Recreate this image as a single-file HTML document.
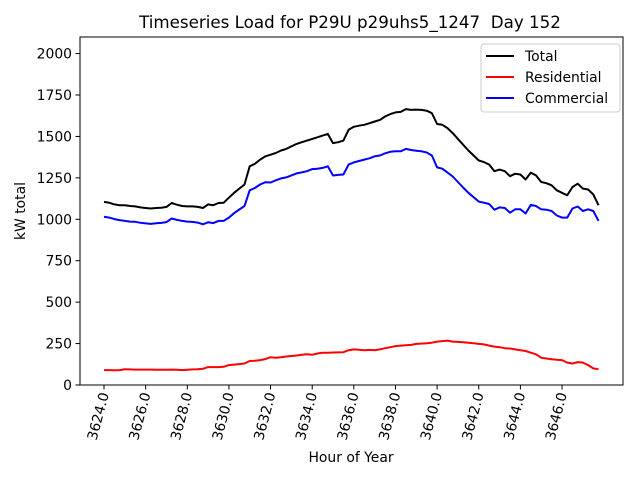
<!DOCTYPE html>
<html><head><meta charset="utf-8"><style>
body{margin:0;background:#fff;}
svg text{font-family:"DejaVu Sans","Liberation Sans",sans-serif;fill:#000;}
</style></head><body>
<svg id="chart" width="640" height="480" xmlns="http://www.w3.org/2000/svg">
<rect width="640" height="480" fill="#fff"/>
<text x="350" y="28" font-size="16.7" text-anchor="middle" style="white-space:pre">Timeseries Load for P29U p29uhs5_1247  Day 152</text>
<g id="grid"></g>
<g id="series"></g>
<rect x="80" y="37" width="543" height="348" fill="none" stroke="#000" stroke-width="1"/>
<g id="axes"></g>
<text x="351" y="462" font-size="13.9" text-anchor="middle">Hour of Year</text>
<text x="0" y="0" font-size="13.9" text-anchor="middle" transform="translate(25,211) rotate(-90)">kW total</text>
<g>
<rect x="481" y="44" width="139" height="68" rx="3" fill="#fff" fill-opacity="0.8" stroke="#ccc"/>
<line x1="486" y1="56" x2="514" y2="56" stroke="#000" stroke-width="2"/>
<text x="525" y="61" font-size="13.9">Total</text>
<line x1="486" y1="77" x2="514" y2="77" stroke="#f00" stroke-width="2"/>
<text x="525" y="82" font-size="13.9">Residential</text>
<line x1="486" y1="98" x2="514" y2="98" stroke="#00f" stroke-width="2"/>
<text x="525" y="103" font-size="13.9">Commercial</text>
</g>
</svg>
<script>
const startHour = 3624;
const stepHours = 0.25;
const totalLoad = [1105,1100,1090,1085,1085,1080,1078,1072,1068,1065,1068,1070,1075,1098,1088,1080,1078,1078,1075,1068,1090,1085,1098,1100,1130,1160,1185,1210,1320,1335,1360,1380,1390,1400,1415,1425,1440,1455,1465,1475,1485,1495,1505,1515,1460,1465,1475,1540,1558,1565,1570,1580,1590,1600,1620,1635,1645,1648,1665,1660,1662,1660,1655,1640,1575,1570,1550,1520,1485,1450,1415,1385,1355,1345,1330,1290,1300,1290,1260,1275,1270,1240,1282,1265,1225,1218,1205,1175,1160,1145,1195,1215,1185,1180,1150,1085];
const residentialLoad = [90,90,89,90,95,94,93,93,93,93,92,92,92,93,92,90,92,94,95,98,108,108,108,110,120,123,126,130,145,146,150,156,168,165,168,172,175,178,182,185,182,190,195,195,196,197,198,210,215,213,210,212,210,215,222,228,235,238,240,242,248,250,252,255,262,265,268,262,260,258,255,252,248,245,238,232,228,222,220,215,210,205,195,185,165,160,155,152,150,135,130,138,135,120,100,95];
const commercialLoad = [1015,1010,1001,995,990,986,985,979,975,972,976,978,983,1005,996,990,986,984,980,970,982,977,990,990,1010,1037,1059,1080,1175,1189,1210,1224,1222,1235,1247,1253,1265,1277,1283,1290,1303,1305,1310,1320,1264,1268,1270,1330,1343,1352,1360,1368,1380,1385,1398,1407,1410,1410,1425,1418,1414,1410,1403,1385,1313,1305,1282,1258,1225,1192,1160,1133,1107,1100,1092,1058,1072,1068,1040,1060,1060,1035,1087,1080,1060,1058,1050,1023,1010,1010,1065,1077,1050,1060,1050,990];
const xTicks = [3624,3626,3628,3630,3632,3634,3636,3638,3640,3642,3644,3646];
const yTicks = [0,250,500,750,1000,1250,1500,1750,2000];

const NS = "http://www.w3.org/2000/svg";
const X0 = 104, PXH = 20.82;
function xs(h){ return X0 + (h - startHour) * PXH; }
function ys(v){ return 385 - v * (348/2100); }
function mk(tag, attrs, parent){
  const e = document.createElementNS(NS, tag);
  for (const k in attrs) e.setAttribute(k, attrs[k]);
  parent.appendChild(e); return e;
}
const axes = document.getElementById('axes');
xTicks.forEach(t => {
  const x = xs(t);
  const l = mk('line', {x1:x, y1:385, x2:x, y2:389.5, stroke:'#000'}, axes);
  
  
  const tx = mk('text', {x:0, y:0, 'font-size':13.9, 'text-anchor':'end', transform:`translate(${x+5},394) rotate(-75)`}, axes);
  
  
  tx.textContent = t.toFixed(1);
});
yTicks.forEach(t => {
  const y = ys(t);
  const l = mk('line', {x1:75.5, y1:y, x2:80, y2:y, stroke:'#000'}, axes);
  
  
  const tx = mk('text', {x:72, y:y+5, 'font-size':13.9, 'text-anchor':'end'}, axes);
  
  
  tx.textContent = t;
});
const series = document.getElementById('series');
function drawLine(vals, color, name){
  const pts = vals.map((v,i) => xs(startHour + i*stepHours).toFixed(1) + ',' + ys(v).toFixed(1)).join(' ');
  const p = mk('polyline', {points:pts, fill:'none', stroke:color, 'stroke-width':2, 'stroke-linejoin':'round'}, series);
  
  
}
drawLine(totalLoad, '#000', 'total-line');
drawLine(residentialLoad, '#f00', 'residential-line');
drawLine(commercialLoad, '#00f', 'commercial-line');
</script>
</body></html>
